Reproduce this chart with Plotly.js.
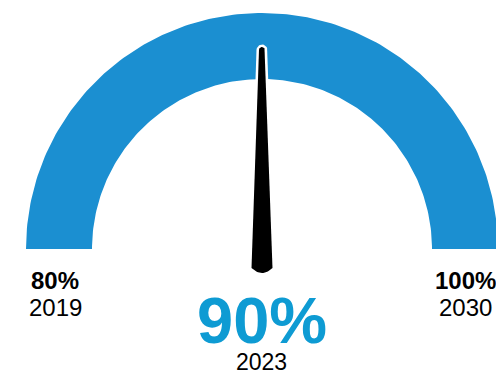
<!DOCTYPE html>
<html>
<head>
<meta charset="utf-8">
<script src="https://cdn.plot.ly/plotly-3.0.1.min.js"></script>
<style>html,body{margin:0;padding:0;background:#fff;}#chart{width:496px;height:374px;}</style>
</head>
<body>
<div id="chart"></div>
<script>
// ---- data ----
const rangeValues = [80, 100];          // gauge min / max (%)
const rangeYears = ['2019', '2030'];    // years for min / max
const currentValue = [90];              // current value (%)
const currentYear = ['2023'];

// ---- geometry (pixels) ----
const W = 496, H = 374;
const CX = 262, CY = 249;      // gauge centre in px
const R_OUT = 236, R_IN = 170; // radii in px
const U = R_OUT;               // px per data unit

const minV = rangeValues[0], maxV = rangeValues[1];
function ang(v) { return Math.PI * (1 - (v - minV) / (maxV - minV)); }
function pxX(px) { return (px - CX) / U; }
function pxY(py) { return (CY - py) / U; }

// arc band
const ax = [], ay = [];
const N = 180;
for (let i = 0; i <= N; i++) {
  const v = minV + (maxV - minV) * i / N, a = ang(v);
  ax.push(Math.cos(a)); ay.push(Math.sin(a));
}
for (let i = N; i >= 0; i--) {
  const v = minV + (maxV - minV) * i / N, a = ang(v);
  ax.push(Math.cos(a) * R_IN / R_OUT); ay.push(Math.sin(a) * R_IN / R_OUT);
}
ax.push(ax[0]); ay.push(ay[0]);

// needle
function needle(v, grow) {
  const a = ang(v);
  const ux = Math.cos(a), uy = Math.sin(a);
  const nx = -Math.sin(a), ny = Math.cos(a);
  const P = (d, w) => [(d * ux + w * nx) / U, (d * uy + w * ny) / U];
  const tipD = 199, tipR = 3 + grow;
  const baseD = -19 - grow, baseW = 10.5 + grow, ctrlD = -29 - grow;
  const pts = [];
  pts.push(P(baseD, -baseW));
  pts.push(P(tipD, -tipR));
  for (let k = 1; k < 16; k++) {
    const t = -Math.PI / 2 + Math.PI * k / 16;
    pts.push(P(tipD + tipR * Math.cos(t), tipR * Math.sin(t)));
  }
  pts.push(P(tipD, tipR));
  pts.push(P(baseD, baseW));
  for (let k = 1; k <= 16; k++) {
    const t = k / 16;
    const d = (1 - t) * (1 - t) * baseD + 2 * t * (1 - t) * ctrlD + t * t * baseD;
    const w = (1 - t) * (1 - t) * baseW + t * t * (-baseW);
    pts.push(P(d, w));
  }
  return { x: pts.map(p => p[0]), y: pts.map(p => p[1]) };
}
const nWhite = needle(currentValue[0], 2.5);
const nBlack = needle(currentValue[0], 0);

const ARC_COLOR = '#1b8fd1';
const traces = [
  { x: ax, y: ay, type: 'scatter', mode: 'lines', fill: 'toself', fillcolor: ARC_COLOR,
    line: { width: 0, color: ARC_COLOR }, hoverinfo: 'skip' },
  { x: nWhite.x, y: nWhite.y, type: 'scatter', mode: 'lines', fill: 'toself', fillcolor: '#ffffff',
    line: { width: 0, color: '#ffffff' }, hoverinfo: 'skip' },
  { x: nBlack.x, y: nBlack.y, type: 'scatter', mode: 'lines', fill: 'toself', fillcolor: '#000000',
    line: { width: 0, color: '#000000' }, hoverinfo: 'skip' }
];

const FONT = 'Liberation Sans, Arial, Helvetica, sans-serif';
const midR = (R_OUT + R_IN) / 2 / U;
const leftX = Math.cos(ang(minV)) * midR, rightX = Math.cos(ang(maxV)) * midR;
const ann = (x, y, text, size, bold, color, xshift) => ({
  x: x, y: y, xref: 'x', yref: 'y', text: bold ? '<b>' + text + '</b>' : text,
  showarrow: false, xanchor: 'center', yanchor: 'middle', xshift: xshift || 0,
  font: { family: FONT, size: size, color: color }
});
const annotations = [
  ann(leftX, pxY(280), rangeValues[0] + '%', 24, true, '#000', -4),
  ann(leftX, pxY(307), rangeYears[0], 24, false, '#000', -4),
  ann(rightX, pxY(280), rangeValues[1] + '%', 24, true, '#000', 0),
  ann(rightX, pxY(307), rangeYears[1], 24, false, '#000', 0),
  ann(0, pxY(320), currentValue[0] + '%', 65, true, '#0e9bd3', 0),
  ann(0, pxY(362), currentYear[0], 23, false, '#000', -1)
];

const layout = {
  width: W, height: H,
  margin: { l: 0, r: 0, t: 0, b: 0, pad: 0 },
  paper_bgcolor: '#fff', plot_bgcolor: '#fff',
  showlegend: false,
  xaxis: { range: [pxX(0), pxX(W)], visible: false, fixedrange: true },
  yaxis: { range: [pxY(H), pxY(0)], visible: false, fixedrange: true },
  annotations: annotations
};
Plotly.newPlot('chart', traces, layout, { staticPlot: true, displayModeBar: false });
</script>
</body>
</html>
